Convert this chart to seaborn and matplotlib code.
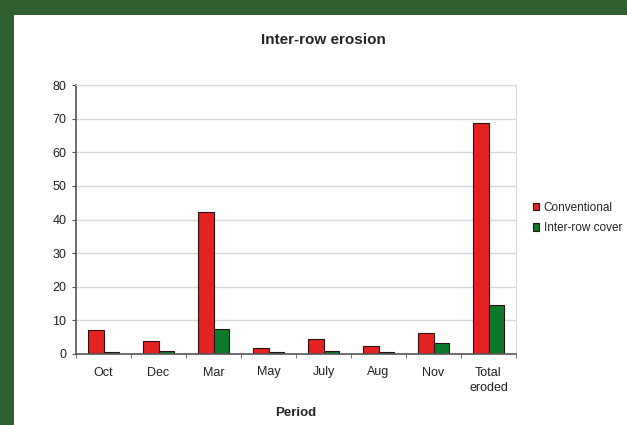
import seaborn as sns
import pandas as pd
import numpy as np
import matplotlib.pyplot as plt
from matplotlib.patches import Rectangle

periods = ["Oct", "Dec", "Mar", "May", "July", "Aug", "Nov", "Total\neroded"]
conventional = [7.1, 3.9, 42.2, 1.8, 4.5, 2.4, 6.2, 68.6]
inter_row_cover = [0.5, 1.0, 7.4, 0.5, 1.0, 0.5, 3.3, 14.7]
series = ["Conventional", "Inter-row cover"]
colors = ["#e52222", "#0c7a2c"]

df = pd.DataFrame({
    "Period": periods * 2,
    "value": conventional + inter_row_cover,
    "series": [series[0]] * len(periods) + [series[1]] * len(periods),
})

sns.set_style("white")
plt.rcParams['font.family'] = ['Liberation Sans', 'DejaVu Sans']

fig = plt.figure(figsize=(6.27, 4.25), dpi=100, facecolor="#2e6030")
# white panel inside the green frame
fig.patches.append(Rectangle((14 / 627, 0), 1, 1 - 15 / 425, transform=fig.transFigure,
                             facecolor="white", edgecolor="none", zorder=-10))
ax = fig.add_axes([76 / 627, 1 - 354 / 425, 440 / 627, 269 / 425])
ax.set_zorder(5)

sns.barplot(data=df, x="Period", y="value", hue="series", palette=colors,
            width=0.58, edgecolor="#2a1212", linewidth=0.8, ax=ax, saturation=1)

ax.set_ylim(0, 80)
ax.set_yticks(np.arange(0, 81, 10))
ax.set_xlim(-0.5, len(periods) - 0.5)
ax.yaxis.grid(True, color="#d8d8d8", linewidth=1)
ax.set_axisbelow(True)
for s in ["top", "right"]:
    ax.spines[s].set_color("#d8d8d8")
for s in ["left", "bottom"]:
    ax.spines[s].set_color("#555555")
    ax.spines[s].set_linewidth(1.2)

ax.set_xticks(np.arange(len(periods)))
ax.set_xticklabels(periods, fontsize=9, color="#222222", linespacing=1.4)
ax.tick_params(axis="x", length=0, pad=9)
ax.set_xticks(np.arange(len(periods) + 1) - 0.5, minor=True)
ax.tick_params(axis="x", which="minor", length=3, color="#555555", direction="out",
               bottom=True)
ax.tick_params(axis="y", labelsize=9, length=3, color="#555555", direction="out",
               left=True, labelcolor="#222222", pad=4)

ax.set_ylabel("")
ax.set_xlabel("Period", fontsize=9.5, fontweight="bold", labelpad=9)
fig.text(323 / 627, 1 - 40 / 425, "Inter-row erosion", ha="center", va="center",
         fontsize=11, fontweight="bold")

handles, labels = ax.get_legend_handles_labels()
ax.legend(handles, labels, loc="center left", bbox_to_anchor=(522 / 627, 1 - 218 / 425),
          bbox_transform=fig.transFigure, frameon=False, fontsize=8.5,
          handlelength=0.55, handleheight=0.55, handletextpad=0.4, labelspacing=0.7)

fig.savefig("out.png", dpi=100, facecolor=fig.get_facecolor())
